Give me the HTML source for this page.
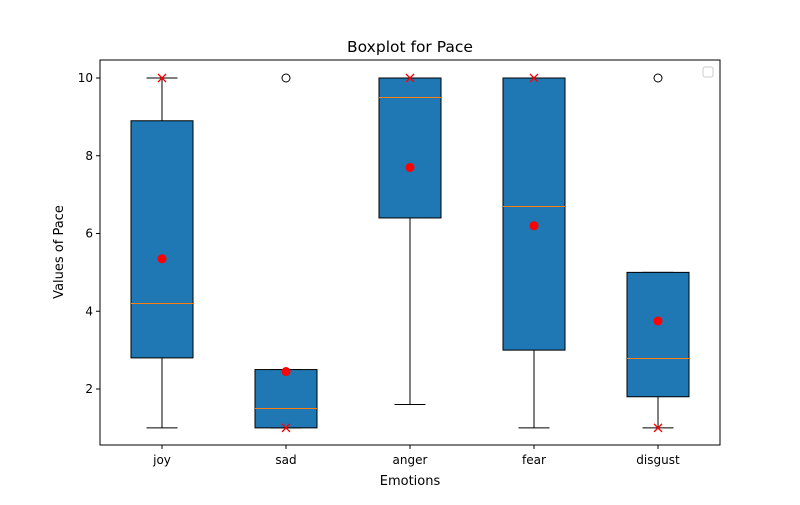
<!DOCTYPE html>
<html><head><meta charset="utf-8"><style>
body{margin:0;background:#fff;font-family:"Liberation Sans","DejaVu Sans",sans-serif}
svg text{font-family:"DejaVu Sans","Liberation Sans",sans-serif}
</style></head><body>
<svg id="chart" width="800" height="500" xmlns="http://www.w3.org/2000/svg"></svg>
<script>
const categories=["joy","sad","anger","fear","disgust"];
const whiskerLow=[1,1,1.6,1,1];
const q1=[2.8,1,6.4,3,1.8];
const medians=[4.2,1.5,9.5,6.7,2.8];
const q3=[8.9,2.5,10,10,5];
const whiskerHigh=[10,2.5,10,10,5];
const means=[5.35,2.45,7.7,6.2,3.75];
const modes=[10,1,10,10,1];
const outliers=[[],[10],[],[],[10]];
const yTicks=[2,4,6,8,10];

const NS="http://www.w3.org/2000/svg";
const svg=document.getElementById('chart');
const L=100,R=720,T=60,B=445;
const y=v=>78+(10-v)*38.875;
const x=i=>162+i*124;
const bw=62;
function el(tag,attrs,parent){const e=document.createElementNS(NS,tag);for(const k in attrs)e.setAttribute(k,attrs[k]);(parent||svg).appendChild(e);return e;}
function txt(s,attrs){const t=el('text',attrs);t.textContent=s;return t;}

categories.forEach((c,i)=>{
  const g=el('g',{});
  
  
  const cx=x(i);
  el('line',{x1:cx,x2:cx,y1:y(q1[i]),y2:y(whiskerLow[i]),stroke:'#000','stroke-width':1},g);
  el('line',{x1:cx,x2:cx,y1:y(q3[i]),y2:y(whiskerHigh[i]),stroke:'#000','stroke-width':1},g);
  el('line',{x1:cx-15.5,x2:cx+15.5,y1:y(whiskerLow[i]),y2:y(whiskerLow[i]),stroke:'#000','stroke-width':1},g);
  el('line',{x1:cx-15.5,x2:cx+15.5,y1:y(whiskerHigh[i]),y2:y(whiskerHigh[i]),stroke:'#000','stroke-width':1},g);
  el('rect',{x:cx-bw/2,y:y(q3[i]),width:bw,height:y(q1[i])-y(q3[i]),fill:'#1f77b4',stroke:'#000','stroke-width':1},g);
  const my0=Math.round(y(medians[i]))+0.5;
  el('line',{x1:cx-bw/2,x2:cx+bw/2,y1:my0,y2:my0,stroke:'#ff7f0e','stroke-width':1},g);
  outliers[i].forEach(o=>{const f=el('circle',{cx:cx,cy:y(o),r:4,fill:'none',stroke:'#000','stroke-width':1},g);
    
    });
  const m=el('circle',{cx:cx,cy:y(means[i]),r:4.5,fill:'#ff0000'},g);
  
  
  const my=y(modes[i]);
  const mk=el('path',{d:`M${cx-4},${my-4}L${cx+4},${my+4}M${cx-4},${my+4}L${cx+4},${my-4}`,stroke:'#ff0000','stroke-width':1.3,fill:'none'},g);
  
  
  el('line',{x1:cx,x2:cx,y1:B,y2:B+4,stroke:'#000'});
  const lt=txt(c,{x:cx,y:B+19,'font-size':12,'text-anchor':'middle'});
  
  
});
yTicks.forEach(v=>{
  el('line',{x1:L-4,x2:L,y1:y(v),y2:y(v),stroke:'#000'});
  const t=txt(String(v),{x:L-7,y:y(v)+4,'font-size':12,'text-anchor':'end'});
  
  
});
const frame=el('rect',{x:L,y:T,width:R-L,height:B-T,fill:'none',stroke:'#000','stroke-width':1});


const leg=el('rect',{x:703,y:67,width:10,height:10,rx:2,fill:'#fff',stroke:'#ccc'});


const tt=txt('Boxplot for Pace',{x:410,y:52,'font-size':15.5,'text-anchor':'middle'});


const xt=txt('Emotions',{x:410,y:485,'font-size':13,'text-anchor':'middle'});


const yt=txt('Values of Pace',{x:0,y:0,'font-size':13,'text-anchor':'middle',transform:'translate(63,252) rotate(-90)'});


</script>
</body></html>
